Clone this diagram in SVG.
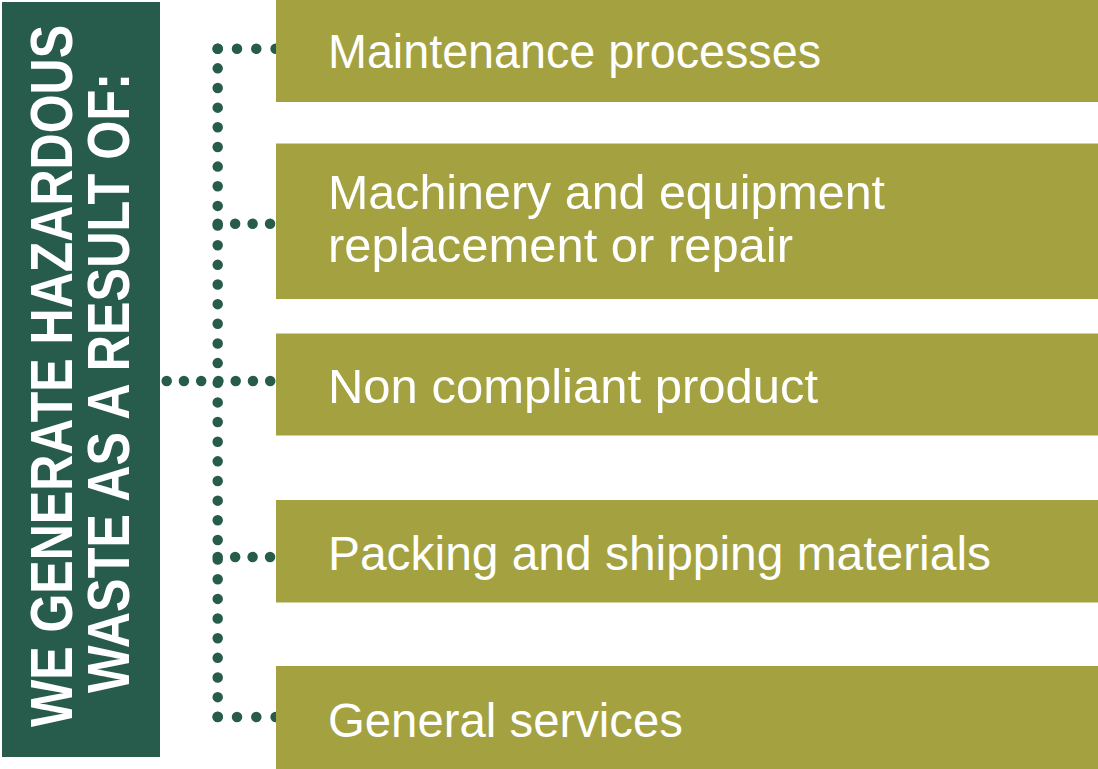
<svg xmlns="http://www.w3.org/2000/svg" width="1098" height="769" viewBox="0 0 1098 769">
  <style>
    .dots { fill: none; stroke: #275C4D; stroke-width: 10.5; stroke-linecap: round; }
    .item { fill: #A3A140; }
    .lbl { font-family: "Liberation Sans", Arial, sans-serif; font-size: 48px; fill: #FFFFFF; }
    .head { font-family: "Liberation Sans", Arial, sans-serif; font-weight: bold; font-size: 60px; fill: #FFFFFF; text-anchor: middle; }
  </style>
  <rect width="1098" height="769" fill="#FFFFFF"/>

  <g id="connectors">
    <line class="dots" x1="217.7" y1="48.7" x2="217.7" y2="717.2" stroke-dasharray="0 19.65"/>
    <line class="dots" x1="217.7" y1="48.7" x2="276" y2="48.7" stroke-dasharray="0 19.3"/>
    <line class="dots" x1="217.7" y1="223.7" x2="270.2" y2="223.7" stroke-dasharray="0 17.45"/>
    <line class="dots" x1="166.7" y1="381" x2="270.3" y2="381" stroke-dasharray="0 17.25"/>
    <line class="dots" x1="217.7" y1="557" x2="270.2" y2="557" stroke-dasharray="0 17.45"/>
    <line class="dots" x1="217.7" y1="717" x2="276" y2="717" stroke-dasharray="0 19.3"/>
  </g>

  <g id="heading">
    <rect x="2" y="2" width="158" height="755" fill="#275C4D"/>
    <text class="head" transform="translate(72,376) rotate(-90) scale(0.83,1)" x="0" y="0" textLength="846" lengthAdjust="spacingAndGlyphs">WE GENERATE HAZARDOUS</text>
    <text class="head" transform="translate(128.5,383) rotate(-90) scale(0.83,1)" x="0" y="0" textLength="747" lengthAdjust="spacingAndGlyphs">WASTE AS A RESULT OF:</text>
  </g>

  <g id="item1">
    <rect class="item" x="276" y="0" width="822" height="102"/>
    <text class="lbl" x="328" y="67.5" textLength="493" lengthAdjust="spacingAndGlyphs">Maintenance processes</text>
  </g>
  <g id="item2">
    <rect class="item" x="276" y="143.5" width="822" height="155.5"/>
    <text class="lbl" x="328" y="208.5" textLength="557" lengthAdjust="spacingAndGlyphs">Machinery and equipment</text>
    <text class="lbl" x="328" y="261.5" textLength="465" lengthAdjust="spacingAndGlyphs">replacement or repair</text>
  </g>
  <g id="item3">
    <rect class="item" x="276" y="333.5" width="822" height="102"/>
    <text class="lbl" x="328" y="403.3" textLength="490" lengthAdjust="spacingAndGlyphs">Non compliant product</text>
  </g>
  <g id="item4">
    <rect class="item" x="276" y="500" width="822" height="102.5"/>
    <text class="lbl" x="328" y="570" textLength="663" lengthAdjust="spacingAndGlyphs">Packing and shipping materials</text>
  </g>
  <g id="item5">
    <rect class="item" x="276" y="666" width="822" height="103"/>
    <text class="lbl" x="328" y="736.5" textLength="355" lengthAdjust="spacingAndGlyphs">General services</text>
  </g>
</svg>
